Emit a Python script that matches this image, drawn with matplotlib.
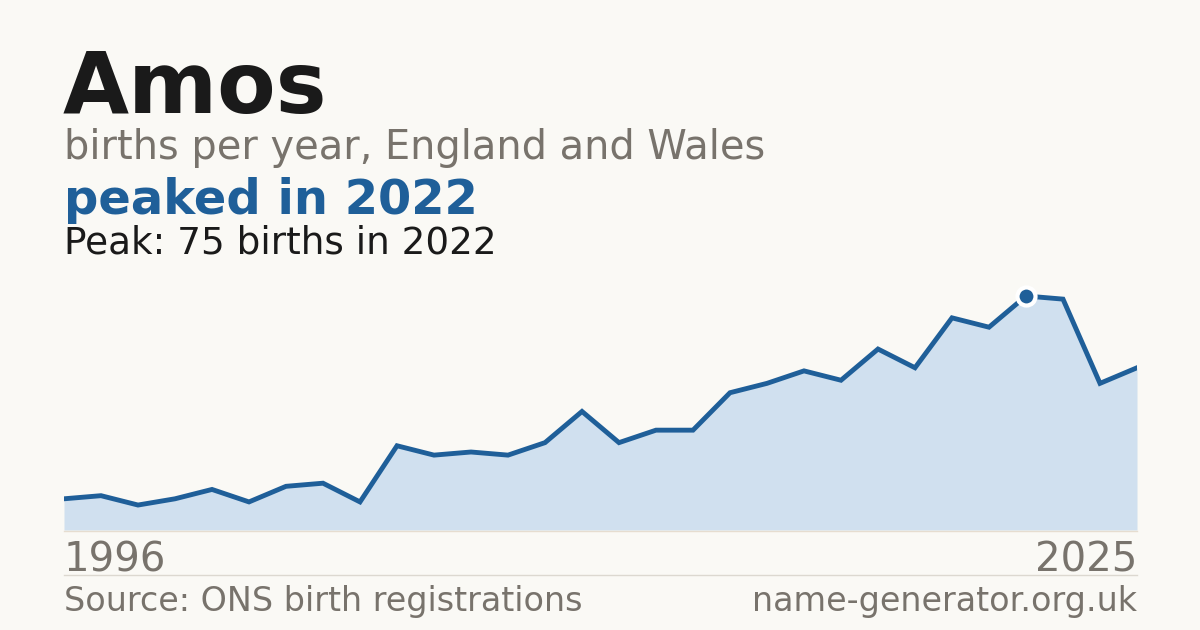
import numpy as np
import matplotlib
matplotlib.use("Agg")
import matplotlib.pyplot as plt

plt.rcParams["font.family"] = ["DejaVu Sans"]

# births per year for "Amos"
years = list(range(1996, 2026))
births = [10, 11, 8, 10, 13, 9, 14, 15, 9, 27,
          24, 25, 24, 28, 38, 28, 32, 32, 44, 47,
          51, 48, 58, 52, 68, 65, 75, 74, 47, 52]

name = "Amos"
subtitle = "births per year, England and Wales"
headline = "peaked in 2022"
source = "Source: ONS birth registrations"
site = "name-generator.org.uk"

BG = "#faf9f5"
BLUE = "#1f5f99"
FILL = "#d0e0ef"
GREY = "#78736c"
INK = "#1a1a1a"

W, H = 1200, 630
fig = plt.figure(figsize=(W / 100, H / 100), dpi=100, facecolor=BG)


def px(x, y):
    # pixel coords (top-left origin) -> figure fraction
    return x / W, 1 - y / H


peak_i = int(np.argmax(births))
peak_year, peak_val = years[peak_i], births[peak_i]

# chart area: x 64..1137, baseline at y=530
top_px, base_px = 280, 530
ax = fig.add_axes([64 / W, 1 - base_px / H, (1137 - 64) / W, (base_px - top_px) / H])
ax.set_facecolor(BG)
ax.fill_between(years, births, 0, color=FILL, lw=0, zorder=1)
ax.plot(years, births, color=BLUE, lw=3.5, solid_joinstyle="miter", zorder=2)
ax.plot([peak_year], [peak_val], "o", ms=13, mfc=BLUE, mec="white", mew=3, zorder=3)
ax.set_xlim(years[0], years[-1])
ax.set_ylim(0, peak_val * (base_px - top_px) / (base_px - 296))
ax.axis("off")

# baseline and separator
fig.add_artist(plt.Line2D([64 / W, 1137 / W], [1 - 530.5 / H] * 2, color="#e6ddd0", lw=1))
fig.add_artist(plt.Line2D([64 / W, 1137 / W], [1 - 574.5 / H] * 2, color="#dcd8d0", lw=1))

# titles
fig.text(*px(63, 113), name, fontsize=61.5, fontweight="bold", color=INK, va="baseline")
fig.text(*px(64, 159), subtitle, fontsize=28.7, color=GREY, va="baseline")
fig.text(*px(64, 214), headline, fontsize=34.6, fontweight="bold", color=BLUE, va="baseline")
fig.text(*px(64, 253), f"Peak: {peak_val} births in {peak_year}", fontsize=26.9,
         color=INK, va="baseline")

# year labels and footer
fig.text(*px(64, 571), str(years[0]), fontsize=29, color=GREY, va="baseline")
fig.text(*px(1137, 571), str(years[-1]), fontsize=29, color=GREY, va="baseline", ha="right")
fig.text(*px(64, 611), source, fontsize=24, color=GREY, va="baseline")
fig.text(*px(1137, 611), site, fontsize=24, color=GREY, va="baseline", ha="right")

fig.savefig("out.png", dpi=100, facecolor=BG)
